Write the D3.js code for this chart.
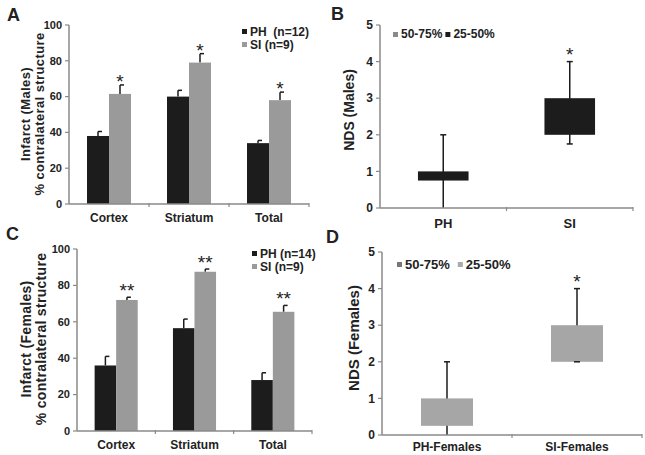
<!DOCTYPE html>
<html><head><meta charset="utf-8">
<script src="https://cdn.jsdelivr.net/npm/d3@7"></script>
<style>body{margin:0;background:#fff}svg{display:block;font-family:"Liberation Sans",Arial,sans-serif;font-weight:bold}</style>
</head><body><svg id="c" width="645" height="455"></svg>
<script>
// ---- data ----
const barCategories = ["Cortex", "Striatum", "Total"];
const barSeries = ["PH", "SI"];
const barTicks = [0, 20, 40, 60, 80, 100];
const malesPH = [38, 60, 34];
const malesPHErr = [2.5, 3.5, 1.5];
const malesSI = [61.5, 79, 58];
const malesSIErr = [5, 5, 4.5];
const malesSig = ["*", "*", "*"];
const malesLegend = ["PH  (n=12)", "SI (n=9)"];
const femalesPH = [36, 56.5, 28];
const femalesPHErr = [5, 5, 4];
const femalesSI = [72, 87.5, 65.5];
const femalesSIErr = [1.5, 1.5, 3.5];
const femalesSig = ["**", "**", "**"];
const femalesLegend = ["PH (n=14)", "SI (n=9)"];

const boxTicks = [0, 1, 2, 3, 4, 5];
const boxLegend = ["50-75%", "25-50%"];
const maleBoxCats = ["PH", "SI"];
const maleQ1 = [0.75, 2];
const maleQ3 = [1, 3];
const maleMin = [0, 1.75];
const maleMax = [2, 4];
const maleBoxSig = ["", "*"];
const femaleBoxCats = ["PH-Females", "SI-Females"];
const femaleQ1 = [0.25, 2];
const femaleQ3 = [1, 3];
const femaleMin = [0, 2];
const femaleMax = [2, 4];
const femaleBoxSig = ["", "*"];

const svg = d3.select("#c");
const AXC = "#8a8a8a", TXT = "#222";

function axes(g, x, y, ticks, tickFs, catFs, catY) {
  const [x0, x1] = x.range();
  g.append("line").attr("x1", x0).attr("x2", x0).attr("y1", y(ticks[0])).attr("y2", y(ticks[ticks.length-1]))
    .attr("stroke", AXC).attr("stroke-width", 1.5);
  ticks.forEach(t => {
    g.append("line").attr("x1", x0 - 4).attr("x2", x0).attr("y1", y(t)).attr("y2", y(t)).attr("stroke", AXC).attr("stroke-width", 1.2);
    g.append("text").attr("x", x0 - 7).attr("y", y(t)).attr("dy", "0.35em").attr("text-anchor", "end")
      .attr("font-size", tickFs).attr("fill", TXT).text(t);
  });
  g.append("line").attr("x1", x0).attr("x2", x1).attr("y1", y(0)).attr("y2", y(0)).attr("stroke", AXC).attr("stroke-width", 1.5);
  const n = x.domain().length;
  for (let i = 1; i <= n; i++) {
    const tx = x0 + i * x.step();
    g.append("line").attr("x1", tx).attr("x2", tx).attr("y1", y(0) - 1).attr("y2", y(0) + 3).attr("stroke", AXC).attr("stroke-width", 1.2);
  }
  x.domain().forEach(c => {
    g.append("text").attr("x", x(c) + x.bandwidth() / 2).attr("y", catY).attr("text-anchor", "middle")
      .attr("font-size", catFs).attr("fill", TXT).text(c);
  });
}

function barPanel(cfg) {
  const g = svg.append("g");
  const x = d3.scaleBand().domain(barCategories).range(cfg.xr).paddingInner(0.45).paddingOuter(0.225);
  const xs = d3.scaleBand().domain(barSeries).range([0, x.bandwidth()]);
  const y = d3.scaleLinear().domain([0, 100]).range(cfg.yr);
  const series = [
    {v: cfg.ph, e: cfg.phErr, c: "#1c1c1c"},
    {v: cfg.si, e: cfg.siErr, c: "#9a9a9a"}
  ];
  series.forEach((s, si) => {
    barCategories.forEach((cat, i) => {
      const bx = x(cat) + xs(barSeries[si]);
      const cx = bx + xs.bandwidth() / 2;
      g.append("line").attr("x1", cx).attr("x2", cx).attr("y1", y(s.v[i])).attr("y2", y(s.v[i] + s.e[i]))
        .attr("stroke", "#1c1c1c").attr("stroke-width", 1.5);
      g.append("line").attr("x1", cx).attr("x2", cx + 4).attr("y1", y(s.v[i] + s.e[i])).attr("y2", y(s.v[i] + s.e[i]))
        .attr("stroke", "#1c1c1c").attr("stroke-width", 1.5);
      g.append("rect").attr("x", bx).attr("width", xs.bandwidth()).attr("y", y(s.v[i]))
        .attr("height", y(0) - y(s.v[i])).attr("fill", s.c);
      if (si === 1) {
        g.append("text").attr("x", cx).attr("y", y(s.v[i] + s.e[i]) + cfg.sigDy).attr("text-anchor", "middle")
          .attr("font-size", 19).attr("font-weight", "normal").attr("fill", TXT).text(cfg.sig[i]);
      }
    });
  });
  axes(g, x, y, barTicks, 11, 12, cfg.catY);
  cfg.legend.forEach((t, i) => {
    const ly = cfg.legY + i * 13;
    g.append("rect").attr("x", cfg.legX).attr("y", ly - 3).attr("width", 5).attr("height", 5).attr("fill", series[i].c);
    g.append("text").attr("x", cfg.legX + 8).attr("y", ly).attr("dy", "0.35em").attr("font-size", 12)
      .attr("fill", TXT).attr("xml:space", "preserve").style("white-space", "pre").text(t);
  });
  cfg.titles.forEach((t, i) => {
    g.append("text").attr("transform", `translate(${cfg.titleX[i]},${cfg.titleY}) rotate(-90)`).attr("text-anchor", "middle")
      .attr("font-size", cfg.titleFs).attr("letter-spacing", cfg.titleLs).attr("fill", TXT).text(t);
  });
  g.append("text").attr("x", cfg.letter[0]).attr("y", cfg.letter[1]).attr("font-size", 18).attr("fill", TXT).text(cfg.letter[2]);
}

function boxPanel(cfg) {
  const g = svg.append("g");
  const x = d3.scaleBand().domain(cfg.cats).range(cfg.xr).paddingInner(0.6).paddingOuter(0.3);
  const y = d3.scaleLinear().domain([0, 5]).range(cfg.yr);
  cfg.cats.forEach((c, i) => {
    const cx = x(c) + x.bandwidth() / 2;
    g.append("line").attr("x1", cx).attr("x2", cx).attr("y1", y(cfg.min[i])).attr("y2", y(cfg.max[i]))
      .attr("stroke", "#1c1c1c").attr("stroke-width", 1.5);
    g.append("rect").attr("x", x(c)).attr("width", x.bandwidth()).attr("y", y(cfg.q3[i]))
      .attr("height", y(cfg.q1[i]) - y(cfg.q3[i])).attr("fill", cfg.boxColor);
    [cfg.min[i], cfg.max[i]].forEach(v => {
      if (v > 0) g.append("line").attr("x1", cx - 3).attr("x2", cx + 3).attr("y1", y(v)).attr("y2", y(v))
        .attr("stroke", "#1c1c1c").attr("stroke-width", 1.5);
    });
    if (cfg.sig[i]) g.append("text").attr("x", cx).attr("y", y(cfg.max[i]) - 1).attr("text-anchor", "middle")
      .attr("font-size", 19).attr("font-weight", "normal").attr("fill", TXT).text(cfg.sig[i]);
  });
  axes(g, x, y, boxTicks, cfg.tickFs, cfg.catFs, cfg.catY);
  let lx = cfg.legX;
  boxLegend.forEach((t, i) => {
    g.append("rect").attr("x", lx).attr("y", cfg.legY - 2).attr("width", 5).attr("height", 5).attr("fill", cfg.legColors[i]);
    const tx = g.append("text").attr("x", lx + 8).attr("y", cfg.legY).attr("dy", "0.35em").attr("font-size", cfg.legFs)
      .attr("fill", TXT).text(t);
    lx += 8 + tx.node().getComputedTextLength() + cfg.legGap;
  });
  g.append("text").attr("transform", `translate(${cfg.titleX},${cfg.titleY}) rotate(-90)`).attr("text-anchor", "middle")
    .attr("font-size", cfg.titleFs).attr("fill", TXT).text(cfg.title);
  g.append("text").attr("x", cfg.letter[0]).attr("y", cfg.letter[1]).attr("font-size", 18).attr("fill", TXT).text(cfg.letter[2]);
}

barPanel({xr: [69, 309], yr: [204, 25], ph: malesPH, phErr: malesPHErr, si: malesSI, siErr: malesSIErr, sig: malesSig, sigDy: 3,
  catY: 222, legend: malesLegend, legX: 242, legY: 32, titles: ["Infarct (Males)", "% contralateral structure"],
  titleX: [30, 44], titleY: 114, titleFs: 13, titleLs: 0.4, letter: [7, 21, "A"]});
barPanel({xr: [77, 312], yr: [431, 249], ph: femalesPH, phErr: femalesPHErr, si: femalesSI, siErr: femalesSIErr, sig: femalesSig, sigDy: 0,
  catY: 449, legend: femalesLegend, legX: 252, legY: 254, titles: ["Infarct (Females)", "% contralateral structure"],
  titleX: [31, 46], titleY: 339, titleFs: 14, titleLs: 0.3, letter: [6, 240, "C"]});
boxPanel({cats: maleBoxCats, q1: maleQ1, q3: maleQ3, min: maleMin, max: maleMax, sig: maleBoxSig,
  xr: [380, 633], yr: [208, 25], boxColor: "#1c1c1c", tickFs: 12, catFs: 13, catY: 228,
  legX: 393, legY: 34, legColors: ["#8a8a8a", "#1c1c1c"], legFs: 12, legGap: 3,
  title: "NDS (Males)", titleX: 354, titleY: 110, titleFs: 14, letter: [331, 20, "B"]});
boxPanel({cats: femaleBoxCats, q1: femaleQ1, q3: femaleQ3, min: femaleMin, max: femaleMax, sig: femaleBoxSig,
  xr: [382, 642], yr: [435, 252], boxColor: "#a6a6a6", tickFs: 12, catFs: 12, catY: 451,
  legX: 397, legY: 264, legColors: ["#777777", "#aaaaaa"], legFs: 13, legGap: 8,
  title: "NDS (Females)", titleX: 359, titleY: 338, titleFs: 15, letter: [326, 243, "D"]});
</script></body></html>
